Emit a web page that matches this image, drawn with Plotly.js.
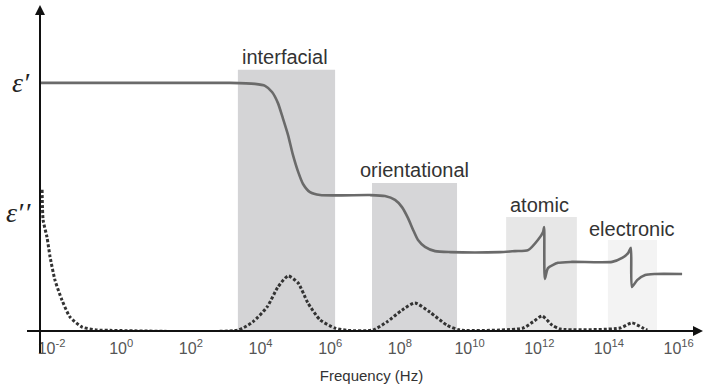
<!DOCTYPE html>
<html>
<head>
<meta charset="utf-8">
<script src="https://cdn.plot.ly/plotly-3.0.1.min.js"></script>
<style>html,body{margin:0;padding:0;background:#fff}#chart{width:705px;height:391px}</style>
</head>
<body>
<div id="chart"></div>
<script>
// log10 of frequency (Hz) and relative permittivity values (arbitrary units)
const realLogF = [-2.33, 3.12, 3.84, 4.13, 4.33, 4.50, 4.64, 4.79, 4.93, 5.08, 5.22, 5.42, 5.71, 7.14, 7.57, 7.86, 8.06, 8.23, 8.38, 8.52, 8.72, 9.01, 9.44, 10.87, 11.30, 11.68, 11.96, 12.11, 12.14, 12.16, 12.25, 12.54, 12.94, 14.09, 14.38, 14.55, 14.63, 14.66, 14.81, 15.04, 15.32, 16.10];
const realEps  = [7.61, 7.61, 7.58, 7.52, 7.33, 6.99, 6.53, 6.01, 5.40, 4.88, 4.51, 4.26, 4.17, 4.17, 4.14, 4.02, 3.80, 3.47, 3.10, 2.79, 2.58, 2.45, 2.42, 2.42, 2.45, 2.48, 2.79, 3.04, 3.19, 1.60, 1.93, 2.09, 2.12, 2.12, 2.24, 2.39, 2.55, 1.35, 1.56, 1.72, 1.75, 1.75];

const lossLogF = [-2.27, -2.24, -2.13, -2.04, -1.90, -1.70, -1.47, -1.12, -0.69, -0.32, 3.35, 3.78, 4.19, 4.50, 4.79, 5.08, 5.36, 5.71, 6.14, 6.48, 7.23, 7.63, 8.06, 8.43, 8.86, 9.35, 9.73, 11.53, 11.82, 12.08, 12.37, 12.60, 14.32, 14.66, 14.98, 15.10];
const lossEps  = [4.33, 3.40, 2.88, 2.27, 1.56, 0.95, 0.43, 0.12, 0.03, 0.02, 0.03, 0.28, 0.74, 1.35, 1.69, 1.47, 0.86, 0.34, 0.09, 0.02, 0.03, 0.28, 0.64, 0.86, 0.58, 0.18, 0.03, 0.09, 0.28, 0.46, 0.18, 0.06, 0.09, 0.25, 0.09, 0.03];

// polarization mechanism bands
const bandNames = ["interfacial", "orientational", "atomic", "electronic"];
const bandStart = [3.35, 7.20, 11.05, 13.97];
const bandEnd   = [6.14, 9.64, 13.08, 15.38];
const bandTop   = [8.01, 4.54, 3.50, 2.79];
const bandColor = ["#d4d4d6", "#d6d6d8", "#e7e7e7", "#f3f3f3"];
const bandLabelX = [4.70, 8.43, 12.02, 14.66];
const bandLabelY = [8.40, 4.94, 3.87, 3.13];

// tick labels
const tickExp = [-2, 0, 2, 4, 6, 8, 10, 12, 14, 16];
const tickText = tickExp.map(e => "10<sup>" + (e < 0 ? "-" : "") + Math.abs(e) + "</sup>");

const xRange = [-2.33, 16.7];
const yRange = [0, 10];

const traces = [
  {x: realLogF, y: realEps, mode: "lines", line: {color: "#6a6a6a", width: 2.6, shape: "spline", smoothing: 0.6}, hoverinfo: "skip", cliponaxis: false},
  {x: lossLogF, y: lossEps, mode: "lines", line: {color: "#333333", width: 3, dash: "3px,2px", shape: "spline", smoothing: 0.6}, hoverinfo: "skip", cliponaxis: false}
];

const shapes = bandNames.map((n, i) => ({
  type: "rect", xref: "x", yref: "y", x0: bandStart[i], x1: bandEnd[i], y0: 0, y1: bandTop[i],
  fillcolor: bandColor[i], line: {width: 0}, layer: "below"
}));
// axes with arrowheads (paper coordinates)
const axisColor = "#111";
shapes.push({type: "line", xref: "paper", yref: "paper", x0: -0.0196, x1: 0.99, y0: 0, y1: 0, line: {color: axisColor, width: 2}});
shapes.push({type: "path", xref: "paper", yref: "paper", path: "M 1 0 L 0.9849 0.0153 L 0.9849 -0.0153 Z", fillcolor: axisColor, line: {width: 0}});
shapes.push({type: "line", xref: "paper", yref: "paper", x0: 0, x1: 0, y0: -0.0675, y1: 0.975, line: {color: axisColor, width: 2}});
shapes.push({type: "path", xref: "paper", yref: "paper", path: "M 0 1 L -0.0075 0.9693 L 0.0075 0.9693 Z", fillcolor: axisColor, line: {width: 0}});

const annotations = bandNames.map((n, i) => ({
  x: bandLabelX[i], y: bandLabelY[i], xref: "x", yref: "y", text: n, showarrow: false,
  font: {family: "Liberation Sans, Arial, sans-serif", size: 20, color: "#333"}
}));
// epsilon labels
const epsFont = {family: "Liberation Serif, serif", size: 28, color: "#222"};
annotations.push({x: -0.045, y: realEps[0], xref: "paper", yref: "y", text: "<i>ε′</i>", showarrow: false, font: epsFont});
annotations.push({x: -0.052, y: 3.65, xref: "paper", yref: "y", text: "<i>ε</i><i style='letter-spacing:1px'>′′</i>", showarrow: false,
  xanchor: "left", xshift: -2, font: epsFont});

const layout = {
  width: 705, height: 391,
  margin: {l: 40, r: 2, t: 5, b: 60},
  paper_bgcolor: "#fff", plot_bgcolor: "#fff",
  showlegend: false,
  xaxis: {range: xRange, showgrid: false, zeroline: false, showline: false, ticks: "",
    tickvals: tickExp, ticktext: tickText, ticklabelstandoff: 6,
    tickfont: {family: "Liberation Sans, Arial, sans-serif", size: 16, color: "#555"},
    title: {text: "Frequency (Hz)", font: {family: "Liberation Sans, Arial, sans-serif", size: 15, color: "#333"}, standoff: 14},
    fixedrange: true},
  yaxis: {range: yRange, showgrid: false, zeroline: false, showline: false, ticks: "", showticklabels: false, fixedrange: true},
  shapes: shapes,
  annotations: annotations
};

Plotly.newPlot("chart", traces, layout, {staticPlot: true, displayModeBar: false});
</script>
</body>
</html>
